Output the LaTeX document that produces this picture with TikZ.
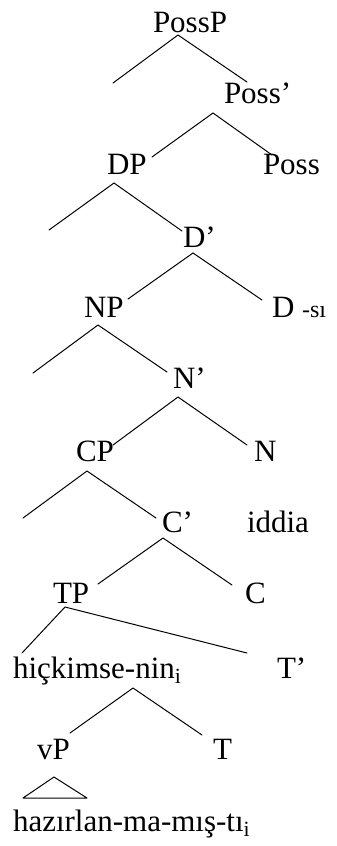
\documentclass[tikz,border=0pt]{standalone}
\usepackage{fontspec}
\setmainfont{Liberation Serif}
\begin{document}
\begin{tikzpicture}[x=1pt,y=-1pt,
  lbl/.style={anchor=base west,inner sep=0pt,outer sep=0pt,font=\fontsize{31}{36}\selectfont},
  br/.style={line width=1pt,line cap=round,line join=round}]
\useasboundingbox (0,0) rectangle (337,846);
% labels
\node[lbl] (PossP) at (153,32) {PossP};
\node[lbl] (Possbar) at (224,103) {Poss’};
\node[lbl] (DP) at (107,174) {DP};
\node[lbl] (Poss) at (263,174) {Poss};
\node[lbl] (Dbar) at (183,247) {D’};
\node[lbl] (NP) at (84,317) {NP};
\node[lbl] (D) at (272,317) {D {\fontsize{24}{28}\selectfont -sı}};
\node[lbl] (Nbar) at (173,388) {N’};
\node[lbl] (CP) at (76,461) {CP};
\node[lbl] (N) at (254,461) {N};
\node[lbl] (Cbar) at (162,532) {C’};
\node[lbl] (iddia) at (247,532) {iddia};
\node[lbl] (TP) at (53,603) {TP};
\node[lbl] (C) at (245,603) {C};
\node[lbl] (hic) at (13,678) {hiçkimse-nin\textsubscript{i}};
\node[lbl] (Tbar) at (277,678) {T’};
\node[lbl] (vP) at (37,759) {vP};
\node[lbl] (T) at (213,759) {T};
\node[lbl] (haz) at (13,831) {hazırlan-ma-mış-tı\textsubscript{i}};
% branch points
\coordinate (a1) at (178,35);  \coordinate (l1) at (113,83);  \coordinate (r1) at (247,82);
\coordinate (a2) at (213,113); \coordinate (l2) at (152,157); \coordinate (r2) at (272,155);
\coordinate (a3) at (114,183); \coordinate (l3) at (49,230);  \coordinate (r3) at (182,231);
\coordinate (a4) at (193,253); \coordinate (l4) at (128,299); \coordinate (r4) at (262,300);
\coordinate (a5) at (98,325);  \coordinate (l5) at (33,373);  \coordinate (r5) at (167,372);
\coordinate (a6) at (178,397); \coordinate (l6) at (113,445); \coordinate (r6) at (247,445);
\coordinate (a7) at (87,471);  \coordinate (l7) at (23,518);  \coordinate (r7) at (156,518);
\coordinate (a8) at (163,538); \coordinate (l8) at (98,584);  \coordinate (r8) at (232,585);
\coordinate (a9) at (65,607);  \coordinate (l9) at (22,653);  \coordinate (r9) at (247,653);
\coordinate (a10) at (133,688); \coordinate (l10) at (70,733); \coordinate (r10) at (202,735);
\coordinate (t1) at (54,777); \coordinate (t2) at (23,798); \coordinate (t3) at (87,798);
\foreach \i in {1,...,10} {\draw[br] (l\i) -- (a\i) -- (r\i);}
\draw[br] (t1) -- (t2) -- (t3) -- cycle;
\end{tikzpicture}
\end{document}
